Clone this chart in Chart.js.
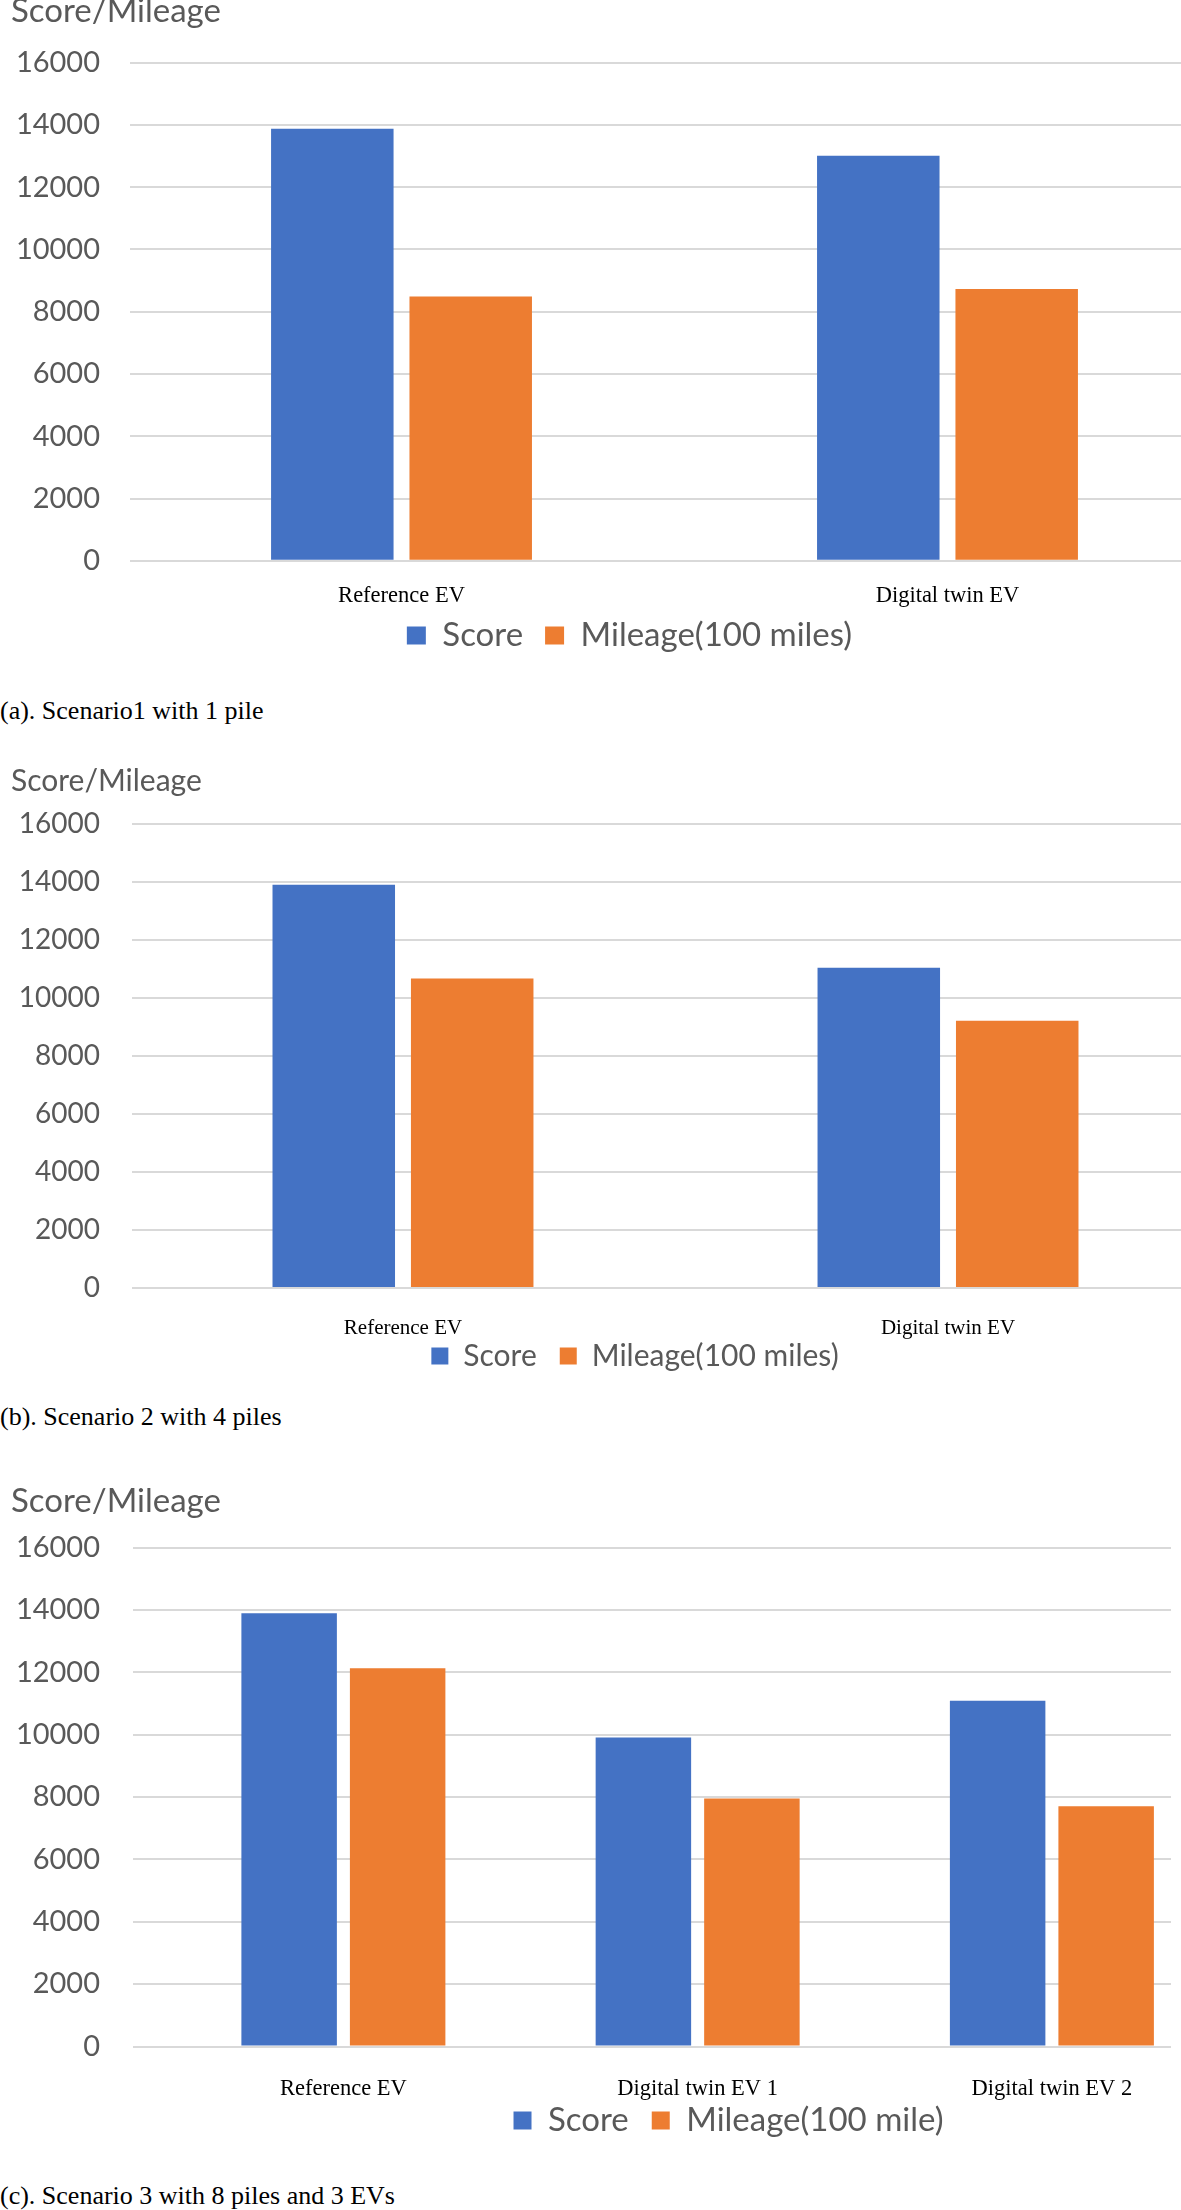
<!DOCTYPE html>
<html>
<head>
<meta charset="utf-8">
<script src="https://cdn.jsdelivr.net/npm/chart.js@4.4.1/dist/chart.umd.min.js"></script>
<style>
html, body { margin: 0; padding: 0; width: 1181px; height: 2210px; overflow: hidden; background: #fff; }
.wrap { position: absolute; left: 0; overflow: hidden; }
.wrap canvas { display: block; }
.cap { position: absolute; left: 0; font-family: "Liberation Serif", "Times New Roman", serif; font-size: 26px; line-height: 30px; color: #000; white-space: nowrap; }
</style>
</head>
<body>
<div class="wrap" style="top:-5px;width:1181px;height:667px"><canvas id="chartA" width="1248" height="667"></canvas></div>
<div class="cap" style="top:696px">(a). Scenario1 with 1 pile</div>

<div class="wrap" style="top:766px;width:1181px;height:615px"><canvas id="chartB" width="1259" height="615"></canvas></div>
<div class="cap" style="top:1402px">(b). Scenario 2 with 4 piles</div>

<div class="wrap" style="top:1485px;width:1171px;height:662px"><canvas id="chartC" width="1446" height="662"></canvas></div>
<div class="cap" style="top:2181px">(c). Scenario 3 with 8 piles and 3 EVs</div>

<script>
// values
const labelsA = ['Reference EV', 'Digital twin EV'];
const scoreA = [13880, 13010];
const mileageA = [8490, 8730];

const labelsB = ['Reference EV', 'Digital twin EV'];
const scoreB = [13890, 11030];
const mileageB = [10660, 9210];

const labelsC = ['Reference EV', 'Digital twin EV 1', 'Digital twin EV 2'];
const scoreC = [13890, 9910, 11090];
const mileageC = [12130, 7950, 7700];

const seriesNames = ['Score', 'Mileage(100 miles)'];
const seriesNamesC = ['Score', 'Mileage(100 mile)'];
const yMax = 16000;
const yStep = 2000;

const BLUE = '#4472C4';
const ORANGE = '#ED7D31';
const GREY_TEXT = '#595959';
const GRID = '#d9d9d9';

// x labels sit partly over the legend box, so let them draw below the axis box
const labelRoom = {
  id: 'labelRoom',
  afterLayout(chart) { chart.scales.x.bottom = chart.height; }
};

function toPoints(values) {
  return values.map((v, i) => ({x: i, y: v}));
}

function makeChart(id, labels, score, mileage, names, s) {
  const ctx = document.getElementById(id).getContext('2d');
  return new Chart(ctx, {
    type: 'bar',
    data: {
      datasets: [{
        label: names[0],
        data: toPoints(score),
        backgroundColor: BLUE,
        categoryPercentage: s.catPct,
        barPercentage: s.barPct
      },
      {
        label: names[1],
        data: toPoints(mileage),
        backgroundColor: ORANGE,
        categoryPercentage: s.catPct,
        barPercentage: s.barPct
      }]
    },
    plugins: [labelRoom],
    options: {
      responsive: false,
      animation: false,
      devicePixelRatio: 1,
      layout: { padding: { left: 11, right: 0, top: 0, bottom: 0 } },
      plugins: {
        tooltip: { enabled: false },
        title: {
          display: true,
          text: 'Score/Mileage',
          align: 'start',
          color: GREY_TEXT,
          font: { family: 'Lato', size: s.titleSize, weight: 'normal', lineHeight: 1 },
          padding: { top: 0, bottom: s.titlePad }
        },
        legend: {
          position: 'bottom',
          labels: {
            color: GREY_TEXT,
            font: { family: 'Lato', size: s.legendSize },
            boxWidth: s.boxW,
            boxHeight: s.boxH,
            padding: s.legendPad
          }
        }
      },
      scales: {
        x: {
          type: 'linear',
          min: s.xMin,
          max: s.xMax,
          bounds: 'data',
          offset: false,
          grid: { display: false },
          border: { display: false },
          afterBuildTicks: (scale) => {
            scale.ticks = labels.map((_, i) => ({value: i}));
          },
          ticks: {
            autoSkip: false,
            maxRotation: 0,
            padding: s.xPad,
            color: '#000',
            font: { family: 'Liberation Serif', size: s.xFont, lineHeight: 1.2 },
            callback: (v) => labels[v] ?? ''
          },
          afterFit: (scale) => { scale.height = s.xAxisH; }
        },
        y: {
          min: 0,
          max: yMax,
          grid: { color: GRID, lineWidth: 2, drawTicks: false },
          border: { display: false },
          ticks: {
            stepSize: yStep,
            padding: s.yPad,
            color: GREY_TEXT,
            font: { family: 'Lato', size: s.yFont },
            callback: (v) => String(v)
          },
          afterFit: (scale) => { scale.width = s.chartLeft - 11; }
        }
      }
    }
  });
}

makeChart('chartA', labelsA, scoreA, mileageA, seriesNames, {
  titleSize: 33, titlePad: 34.7, legendSize: 33, boxW: 19, boxH: 18, legendPad: 22,
  xMin: -0.4973, xMax: 1.5504, xPad: 14, xFont: 22.5, xAxisH: 36.2,
  yPad: 30, yFont: 29, chartLeft: 130, catPct: 0.507, barPct: 0.885
});

makeChart('chartB', labelsB, scoreB, mileageB, seriesNames, {
  titleSize: 30, titlePad: 27.6, legendSize: 30, boxW: 17, boxH: 17, legendPad: 23,
  xMin: -0.4972, xMax: 1.5706, xPad: 20, xFont: 21, xAxisH: 30.1,
  yPad: 32, yFont: 28, chartLeft: 132, catPct: 0.508, barPct: 0.885
});

makeChart('chartC', labelsC, scoreC, mileageC, seriesNamesC, {
  titleSize: 33, titlePad: 29.5, legendSize: 33, boxW: 18, boxH: 18, legendPad: 23,
  xMin: -0.5939, xMax: 3.1125, xPad: 21, xFont: 22.5, xAxisH: 34.5,
  yPad: 33, yFont: 29, chartLeft: 133, catPct: 0.6126, barPct: 0.88
});
</script>
</body>
</html>
